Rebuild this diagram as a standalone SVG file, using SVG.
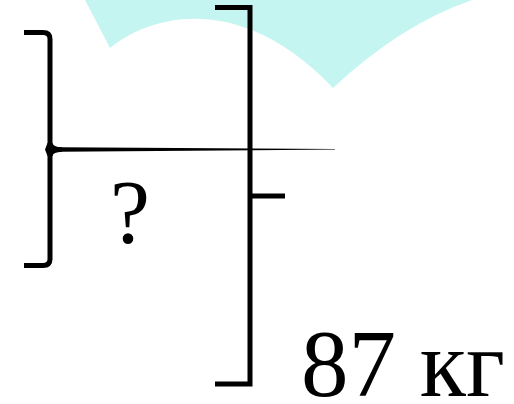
<svg xmlns="http://www.w3.org/2000/svg" width="514" height="404" viewBox="0 0 514 404">
<style>
.ln{fill:none;stroke:#000;stroke-width:5}
.tx{fill:#000}
</style>
<rect width="514" height="404" fill="#fff"/>
<path d="M85,0 L110,48 C150,15 240,-10 333,88 Q400,25 472,0 Z" fill="#c5f5f0"/>
<g id="left-brace">
<path class="ln" d="M24,32.5 L43,32.5 Q50,32.5 50,39 L50,144"/>
<path class="ln" d="M50,155 L50,259 Q50,265.5 43,265.5 L24,265.5"/>
<path d="M45,149.5 L47.5,143 L52.5,143 Q53,147 62,147.3 L62,151.7 Q53,152 52.5,156 L47.5,156 Z" fill="#000"/>
</g>
<g id="connectors">
<path d="M60,147.2 L335,149.1 L335,149.6 L60,151.8 Z" fill="#000"/>
</g>
<g id="right-bracket">
<path class="ln" d="M215,7.5 L250,7.5 L250,384 L215,384"/>
<path class="ln" d="M250,196 L285,196"/>
</g>
<text class="tx" font-family="Liberation Serif, Times New Roman, serif" x="130" y="243" font-size="90" text-anchor="middle">?</text>
<text class="tx" font-family="Liberation Serif, Times New Roman, serif" x="301" y="396" font-size="95">87 кг</text>
</svg>
